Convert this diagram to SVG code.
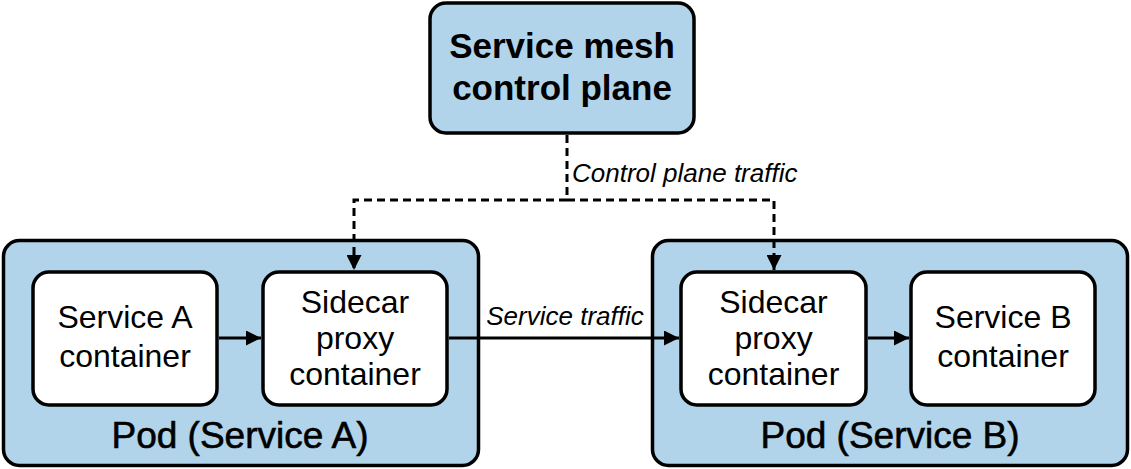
<svg xmlns="http://www.w3.org/2000/svg" width="1131" height="469" viewBox="0 0 1131 469">
<style>
.pod{fill:#b1d4ea;stroke:#000;stroke-width:3.5}
.box{fill:#fff;stroke:#000;stroke-width:3.5}
.t{font-family:"Liberation Sans",Arial,sans-serif;font-size:32px;fill:#000;text-anchor:middle}
.pl{font-family:"Liberation Sans",Arial,sans-serif;font-size:37px;fill:#000;stroke:#000;stroke-width:0.6;text-anchor:middle}
.title{font-family:"Liberation Sans",Arial,sans-serif;font-size:35px;font-weight:bold;fill:#000;text-anchor:middle}
.lbl{font-family:"Liberation Sans",Arial,sans-serif;font-size:26px;font-style:italic;fill:#000}
.solid{fill:none;stroke:#000;stroke-width:3}
.dash{fill:none;stroke:#000;stroke-width:3;stroke-dasharray:8 5}
</style>
<defs>
<marker id="ah" viewBox="0 0 10 10" refX="10" refY="5" markerUnits="userSpaceOnUse" markerWidth="15" markerHeight="15" orient="auto">
<path d="M0,0 L10,5 L0,10 z" fill="#000"/>
</marker>
</defs>
<rect width="1131" height="469" fill="#fff"/>
<g id="control-plane">
<rect class="pod" x="430" y="3" width="264" height="130" rx="16"/>
<text class="title" x="562" y="58">Service mesh</text>
<text class="title" x="562" y="100">control plane</text>
</g>
<g id="pod-a">
<rect class="pod" x="3.5" y="240.5" width="475" height="225" rx="16"/>
<text class="pl" x="240" y="448">Pod (Service A)</text>
</g>
<g id="pod-b">
<rect class="pod" x="652.5" y="240.5" width="475" height="225" rx="16"/>
<text class="pl" x="890" y="448">Pod (Service B)</text>
</g>
<g id="service-a">
<rect class="box" x="33" y="272" width="184" height="133" rx="16"/>
<text class="t" x="125" y="328">Service A</text>
<text class="t" x="125" y="367">container</text>
</g>
<g id="sidecar-a">
<rect class="box" x="263" y="272" width="184" height="133" rx="16"/>
<text class="t" x="355" y="313">Sidecar</text>
<text class="t" x="355" y="349">proxy</text>
<text class="t" x="355" y="385">container</text>
</g>
<g id="sidecar-b">
<rect class="box" x="681" y="272" width="185" height="133" rx="16"/>
<text class="t" x="773.5" y="313">Sidecar</text>
<text class="t" x="773.5" y="349">proxy</text>
<text class="t" x="773.5" y="385">container</text>
</g>
<g id="service-b">
<rect class="box" x="911" y="272" width="184" height="133" rx="16"/>
<text class="t" x="1003" y="328">Service B</text>
<text class="t" x="1003" y="367">container</text>
</g>
<g id="connectors">
<line class="solid" x1="219" y1="338" x2="261" y2="338" marker-end="url(#ah)"/>
<line class="solid" x1="449" y1="338" x2="679" y2="338" marker-end="url(#ah)"/>
<line class="solid" x1="868" y1="338" x2="909" y2="338" marker-end="url(#ah)"/>
<path class="dash" d="M567,135 L567,200"/>
<path class="dash" d="M567,200 L354,200 L354,270" marker-end="url(#ah)"/>
<path class="dash" d="M567,200 L774,200 L774,270" marker-end="url(#ah)"/>
<text class="lbl" x="572" y="182">Control plane traffic</text>
<text class="lbl" x="565" y="325" text-anchor="middle">Service traffic</text>
</g>
</svg>
